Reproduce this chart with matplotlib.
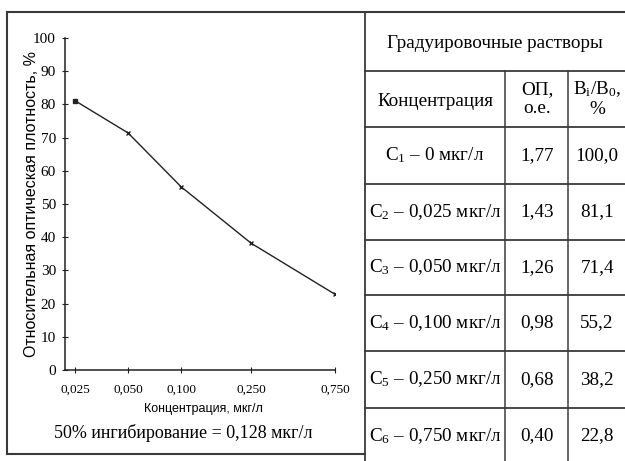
import matplotlib
matplotlib.use("Agg")
import matplotlib.pyplot as plt
from matplotlib.ticker import FixedLocator, NullLocator

# calibration solutions (table + curve)
conc = [0, 0.025, 0.050, 0.100, 0.250, 0.750]      # mkg/l
op = [1.77, 1.43, 1.26, 0.98, 0.68, 0.40]          # optical density, o.e.
bb0 = [100.0, 81.1, 71.4, 55.2, 38.2, 22.8]        # Bi/B0, %
y_ticks = [0, 10, 20, 30, 40, 50, 60, 70, 80, 90, 100]
note = "50% ингибирование = 0,128 мкг/л"


def comma(v, nd):
    return f"{v:.{nd}f}".replace(".", ",")


plt.rcParams["mathtext.fontset"] = "custom"
plt.rcParams["mathtext.rm"] = "Liberation Serif"
plt.rcParams["mathtext.it"] = "Liberation Serif:italic"

W, H = 625, 461
fig = plt.figure(figsize=(6.25, 4.61), dpi=100)
fig.patch.set_facecolor("white")

# overlay in pixel coords for frame + table
ov = fig.add_axes([0, 0, 1, 1], zorder=0)
ov.set_xlim(0, W)
ov.set_ylim(H, 0)
ov.axis("off")

lc = "#3a3a3a"
# outer frame around the chart
ov.plot([7, W], [12, 12], color=lc, lw=1.5)
ov.plot([7, 7], [12, 454], color=lc, lw=1.5)
ov.plot([7, 365], [454, 454], color=lc, lw=1.5)

# table grid
row_y = [12, 71, 127, 184, 240, 295, 351, 408, 464]
ov.plot([365, 365], [12, H], color=lc, lw=1.3)
ov.plot([505, 505], [71, H], color=lc, lw=1.1)
ov.plot([568, 568], [71, H], color=lc, lw=1.1)
for yy in row_y[1:-1]:
    ov.plot([365, W], [yy, yy], color=lc, lw=1.3)

serif = "Liberation Serif"
tfs = 13.8
ov.text(495, 43, "Градуировочные растворы", family=serif, fontsize=tfs,
        ha="center", va="center")
ov.text(435, 101, "Концентрация", family=serif, fontsize=tfs, ha="center", va="center")
ov.text(537, 99, "ОП,\nо.е.", family=serif, fontsize=tfs, ha="center", va="center",
        linespacing=1.15)
ov.text(597, 99, "B$_\\mathrm{i}$/B$_0$,\n%", family=serif, fontsize=tfs,
        ha="center", va="center", linespacing=1.15)

for i, c in enumerate(conc):
    yc = (row_y[i + 2] + row_y[i + 3]) / 2
    cs = "0" if c == 0 else comma(c, 3)
    ov.text(435, yc, f"C$_{i + 1}$ – {cs} мкг/л", family=serif, fontsize=tfs,
            ha="center", va="center")
    ov.text(537, yc, comma(op[i], 2), family=serif, fontsize=tfs, ha="center", va="center")
    ov.text(597, yc, comma(bb0[i], 1), family=serif, fontsize=tfs, ha="center", va="center")

ov.text(183, 433, note, family=serif, fontsize=13, ha="center", va="center")

# chart
ax = fig.add_axes([65 / W, 1 - 370 / H, 270 / W, 332 / H], zorder=1)
ax.patch.set_alpha(0)
ax.set_xscale("log")
ax.set_xlim(0.0219, 0.75)
ax.set_ylim(0, 100)
ax.plot(conc[1:], bb0[1:], color="#222222", lw=1.0)
ax.plot(conc[1:2], bb0[1:2], "s", color="#222222", ms=3)
ax.plot(conc[2:], bb0[2:], "x", color="#222222", ms=3.5, mew=1)

for s in ["top", "right"]:
    ax.spines[s].set_visible(False)
for s in ["left", "bottom"]:
    ax.spines[s].set_color("#222222")
    ax.spines[s].set_linewidth(1.1)

ax.xaxis.set_major_locator(FixedLocator(conc[1:]))
ax.xaxis.set_minor_locator(NullLocator())
ax.set_xticklabels([comma(c, 3) for c in conc[1:]], family=serif, fontsize=9.5)
ax.set_yticks(y_ticks)
ax.set_yticklabels([str(t) for t in y_ticks], family=serif, fontsize=11)
ax.tick_params(axis="x", direction="inout", length=4, pad=8, color="#222222")
ax.tick_params(axis="y", direction="inout", length=5, pad=4, color="#222222")

ax.set_ylabel("Относительная оптическая плотность, %", family="Liberation Sans",
              fontsize=11.5)
ax.yaxis.set_label_coords(-0.095, 0.5)
ax.set_xlabel("Концентрация, мкг/л", family="Liberation Sans", fontsize=9)
ax.xaxis.set_label_coords(0.511, -0.10)

fig.savefig("out.png", dpi=100, facecolor="white")
